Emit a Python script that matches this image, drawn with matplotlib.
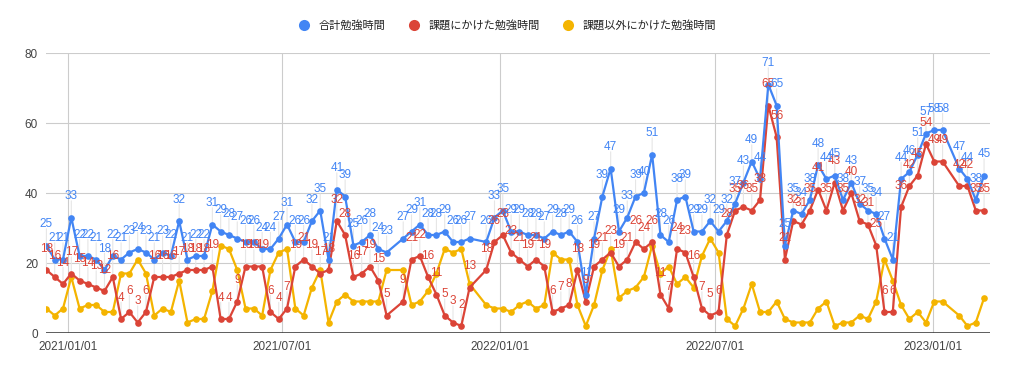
import matplotlib
matplotlib.use("Agg")
import matplotlib.pyplot as plt
from matplotlib.lines import Line2D
import pandas as pd

plt.rcParams['font.family'] = ['Liberation Sans', 'Noto Sans CJK JP', 'DejaVu Sans']

# ---- data (weekly, some weeks without records) ----
start_date = "2020-12-14"
n_weeks = 114
missing_weeks = [42, 52, 109]

red = [18, 16, 14, 17, 15, 14, 13, 12, 16, 4, 6, 3, 6, 16, 16, 16, 17, 18, 18, 18,
       19, 4, 4, 9, 19, 19, 19, 6, 4, 7, 19, 21, 19, 17, 18, 32, 28, 16, 17, 19,
       15, 5, 9, 21, 22, 16, 11, 5, 3, 2, 13, 18, 26, 28, 23, 21, 19, 21, 19,
       6, 7, 8, 18, 9, 19, 21, 23, 19, 21, 26, 24, 26, 11, 7, 24, 23, 16, 7, 5,
       6, 28, 35, 36, 35, 38, 65, 56, 21, 32, 31, 35, 41, 35, 43, 35, 40, 32, 31, 25,
       6, 6, 36, 42, 45, 54, 49, 49, 42, 42, 35, 35]
yellow = [7, 5, 7, 16, 7, 8, 8, 6, 6, 17, 17, 21, 17, 5, 7, 6, 15, 3, 4, 4,
          12, 25, 24, 18, 7, 7, 5, 18, 23, 24, 7, 5, 13, 18, 3, 9, 11, 9, 9, 9,
          9, 18, 18, 8, 9, 12, 17, 24, 23, 24, 14, 8, 7, 7, 6, 8, 9, 7, 8,
          23, 21, 21, 8, 2, 8, 18, 24, 10, 12, 13, 16, 25, 17, 19, 14, 16, 13, 22, 27,
          23, 4, 2, 7, 14, 6, 6, 9, 4, 3, 3, 3, 7, 9, 2, 3, 3, 5, 4, 9,
          21, 15, 8, 4, 6, 3, 9, 9, 5, 2, 3, 10]
blue = [25, 21, 21, 33, 22, 22, 21, 18, 22, 21, 23, 24, 23, 21, 23, 22, 32, 21, 22, 22,
        31, 29, 28, 27, 26, 26, 24, 24, 27, 31, 26, 26, 32, 35, 21, 41, 39, 25, 26, 28,
        24, 23, 27, 29, 31, 28, 28, 29, 26, 26, 27, 26, 33, 35, 29, 29, 28, 28, 27,
        29, 28, 29, 26, 11, 27, 39, 47, 29, 33, 39, 40, 51, 28, 26, 38, 39, 29, 29, 32,
        29, 32, 37, 43, 49, 44, 71, 65, 25, 35, 34, 38, 48, 44, 45, 38, 43, 37, 35, 34,
        27, 21, 44, 46, 51, 57, 58, 58, 47, 44, 38, 45]

series_names = ["合計勉強時間", "課題にかけた勉強時間", "課題以外にかけた勉強時間"]
colors = ["#4285F4", "#DB4437", "#F4B400"]
y_ticks = [0, 20, 40, 60, 80]
x_tick_dates = ["2021-01-01", "2021-07-01", "2022-01-01", "2022-07-01", "2023-01-01"]
x_tick_labels = ["2021/01/01", "2021/07/01", "2022/01/01", "2022/07/01", "2023/01/01"]

all_dates = pd.date_range(start_date, periods=n_weeks, freq="7D")
dates = [d for i, d in enumerate(all_dates) if i not in missing_weeks]

# ---- figure ----
W, H = 1009, 373
fig = plt.figure(figsize=(W / 100, H / 100), dpi=100)
ax = fig.add_axes([46.4 / W, (H - 333) / H, (990 - 46.4) / W, (333 - 53) / H])

ax.set_ylim(0, 80)
ax.set_xlim(dates[0], dates[-1] + pd.Timedelta(days=5))
ax.set_yticks(y_ticks)
ax.set_yticklabels([str(v) for v in y_ticks])
xt = [pd.Timestamp(d) for d in x_tick_dates]
ax.set_xticks(xt)
ax.set_xticklabels(x_tick_labels)
ax.tick_params(axis="both", length=0, labelsize=8.5, colors="#444444")
ax.tick_params(axis="y", pad=6)
ax.tick_params(axis="x", pad=6)
for s in ax.spines.values():
    s.set_visible(False)
ax.grid(True, color="#cccccc", linewidth=0.8)
ax.set_axisbelow(True)
ax.axhline(0, color="#333333", linewidth=1.1, zorder=1)

order = [(yellow, colors[2], False), (red, colors[1], True), (blue, colors[0], True)]
for vals, col, lab in order:
    ax.plot(dates, vals, color=col, linewidth=1.6, marker="o", markersize=4.8,
            markeredgewidth=0, zorder=3)
for vals, col, lab in order:
    if not lab:
        continue
    for d, v in zip(dates, vals):
        # faint annotation stem
        ax.annotate("", xy=(d, v), xytext=(0, 12), textcoords="offset points",
                    xycoords="data",
                    arrowprops=dict(arrowstyle="-", color="#e6e6e6", lw=0.8,
                                    shrinkA=0, shrinkB=0), zorder=2)
        ax.annotate(str(v), (d, v), xytext=(0, 11), textcoords="offset points",
                    ha="center", va="bottom", fontsize=8.5, color=col, zorder=4)

handles = [Line2D([], [], linestyle="none", marker="o", markersize=8,
                  markerfacecolor=c, markeredgewidth=0) for c in colors]
fig.legend(handles, series_names, loc="center", bbox_to_anchor=(0.5, 1 - 25 / H),
           ncol=3, frameon=False, handletextpad=0.3, columnspacing=1.6,
           labelcolor="#222222", prop={"family": ["Noto Sans CJK JP", "DejaVu Sans"], "size": 8})

fig.savefig("out.png", dpi=100)
